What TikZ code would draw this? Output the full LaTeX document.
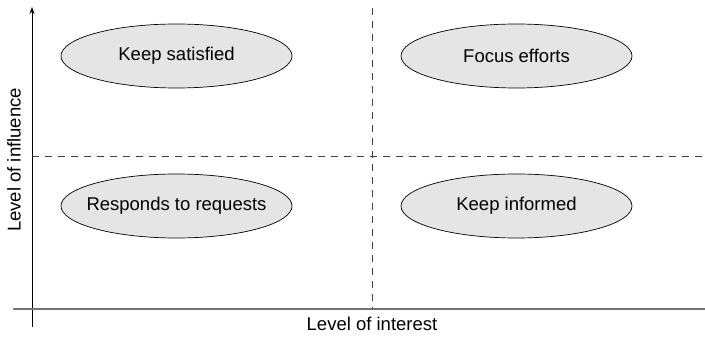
\documentclass[tikz,border=0pt]{standalone}
\usepackage{fontspec}
\setmainfont{Liberation Sans}
\usetikzlibrary{shapes.geometric,arrows.meta}
\newcommand{\quadtext}[1]{\makebox[0pt]{#1}}
\tikzset{
  quadrant/.style={ellipse, draw=black, fill=black!10, line width=0.7pt,
    minimum width=231pt, minimum height=64pt, inner sep=0pt,
    font=\fontsize{18.5}{22}\selectfont},
  divider/.style={draw=black!75, line width=1pt, dash pattern=on 7pt off 6pt},
  axislabel/.style={font=\fontsize{18.5}{22}\selectfont, inner sep=0pt}
}
\begin{document}
\begin{tikzpicture}[x=1pt,y=-1pt]
  \useasboundingbox (0,0) rectangle (705,339);
  % axes
  \coordinate (origin) at (32,327);
  \coordinate (top) at (32,7);
  \coordinate (xstart) at (13,309);
  \coordinate (xend) at (705,309);
  \draw[-{Stealth[length=7pt,width=5pt]}, line width=1pt] (origin) -- (top);
  \draw[black!55, line width=1.4pt] (xstart) -- (xend);
  % dividers
  \coordinate (vtop) at (372,8);
  \coordinate (vbot) at (372,309);
  \coordinate (hleft) at (32,157);
  \coordinate (hright) at (705,157);
  \draw[divider] (vtop) -- (vbot);
  \draw[divider] (hleft) -- (hright);
  % quadrants
  \node[quadrant] (satisfied) at (176.5,56) {\quadtext{Keep satisfied}};
  \node[quadrant] (focus) at (516.5,56) {\quadtext{Focus efforts}};
  \node[quadrant] (requests) at (176.5,206) {\quadtext{Responds to requests}};
  \node[quadrant] (informed) at (516.5,206) {\quadtext{Keep informed}};
  % axis labels
  \node[axislabel, anchor=north] (interest) at (372,317) {Level of interest};
  \node[axislabel, rotate=90] (influence) at (14,160) {Level of influence};
\end{tikzpicture}
\end{document}
